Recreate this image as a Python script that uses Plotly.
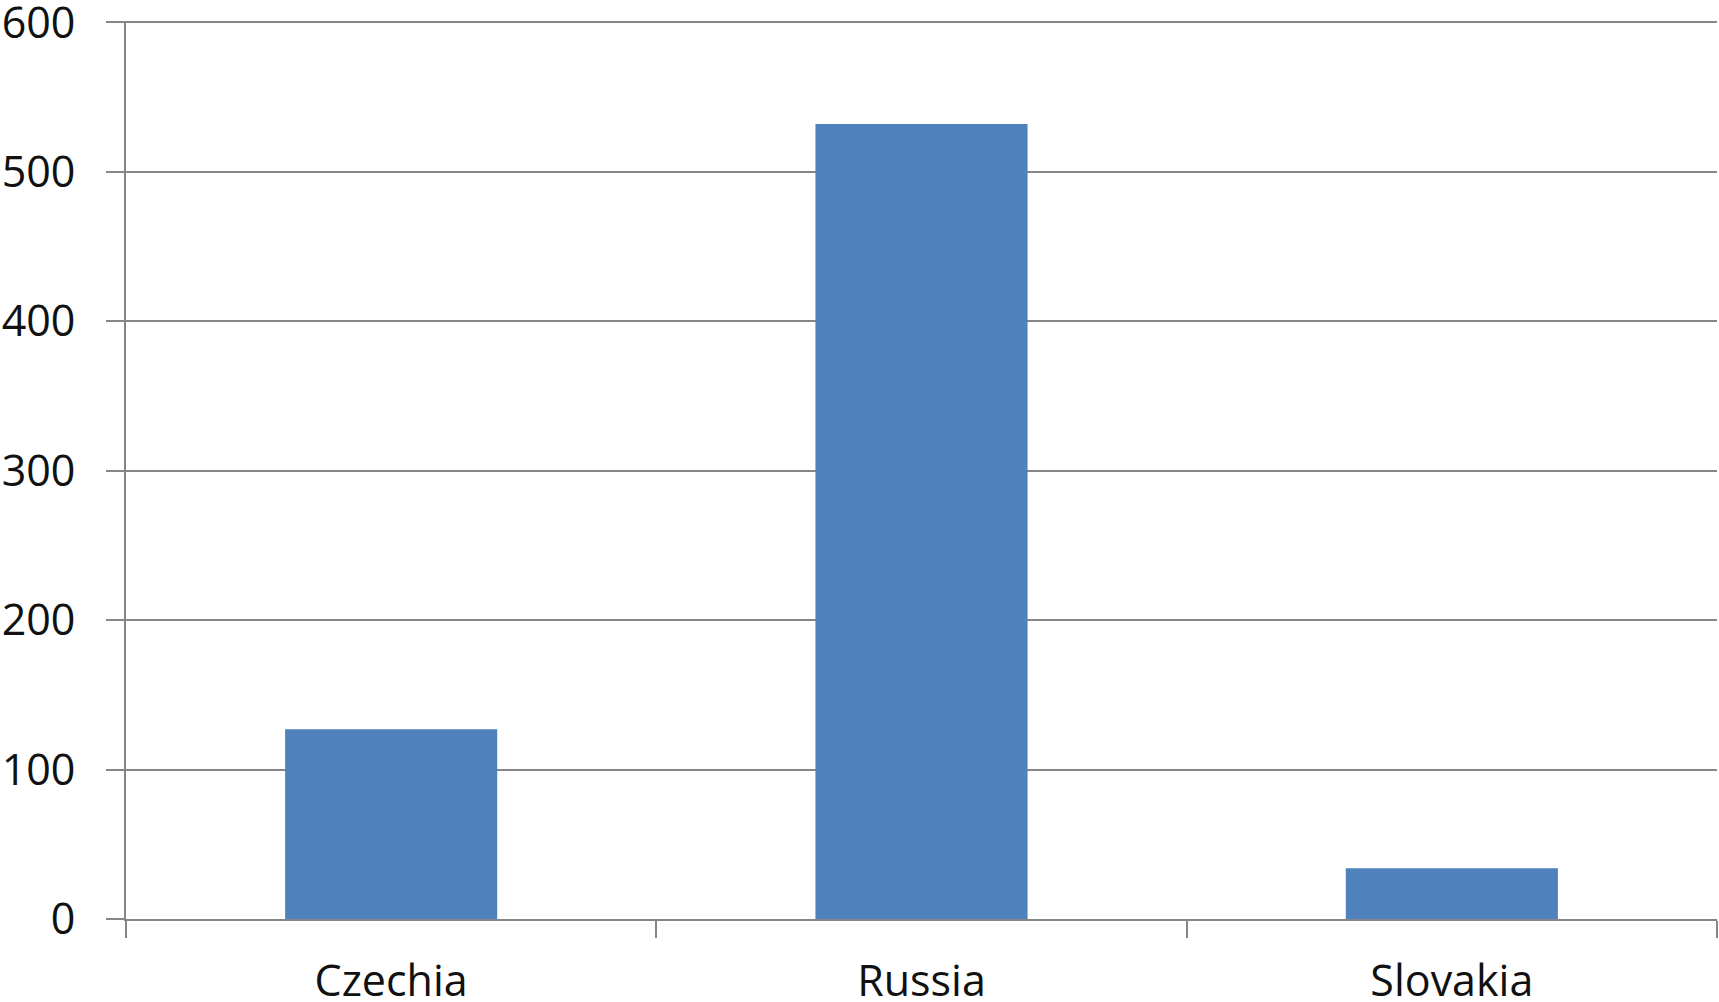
import plotly.graph_objects as go

countries = ["Czechia", "Russia", "Slovakia"]
values = [127, 532, 34]
y_ticks = [0, 100, 200, 300, 400, 500, 600]

bar_color = "#4F81BD"
grey = "#868686"

fig = go.Figure()

fig.add_trace(
    go.Bar(
        x=countries,
        y=values,
        marker=dict(color=bar_color, line=dict(width=0)),
        showlegend=False
    )
)

fig.update_layout(
    width=1719,
    height=1002,
    margin=dict(l=126, r=2, t=21, b=83),
    paper_bgcolor="white",
    plot_bgcolor="white",
    bargap=0.6,
    font=dict(family="Open Sans", size=43, color="#111111")
)

fig.update_xaxes(
    type="category",
    range=[-0.5, 2.5],
    automargin=False,
    showline=True,
    linecolor=grey,
    linewidth=2,
    showgrid=False,
    ticks="outside",
    tickson="boundaries",
    ticklen=17,
    tickwidth=2,
    tickcolor=grey,
    ticklabelstandoff=23
)

fig.update_yaxes(
    range=[0, 601],
    tickvals=y_ticks,
    automargin=False,
    showline=True,
    linecolor=grey,
    linewidth=2,
    showgrid=True,
    gridcolor=grey,
    gridwidth=2,
    zeroline=False,
    ticks="outside",
    ticklen=18,
    tickwidth=2,
    tickcolor=grey,
    ticklabelstandoff=22,
    ticklabeloverflow="allow",
    tickfont=dict(size=43)
)

# drop the default page margin so the figure sits at the window's corner
fig.write_html(
    "out.html",
    config={"displayModeBar": False},
    post_script="document.body.style.margin = '0';"
)
